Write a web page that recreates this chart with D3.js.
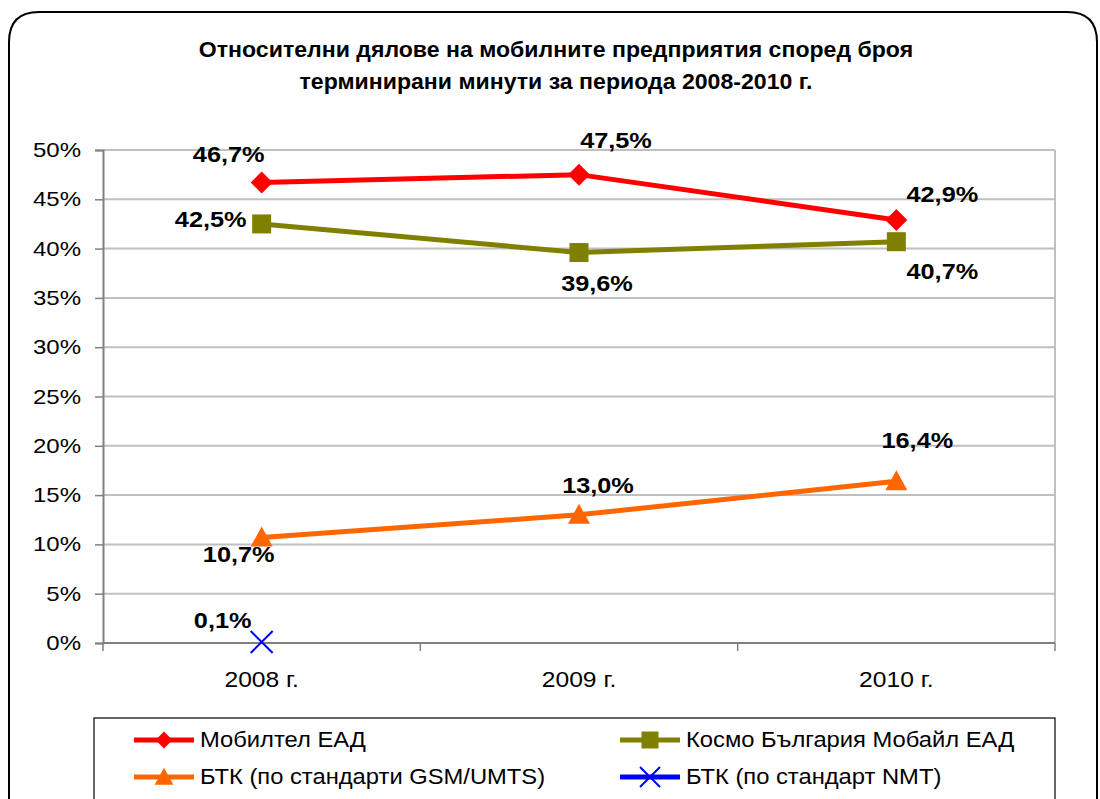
<!DOCTYPE html>
<html>
<head>
<meta charset="utf-8">
<title>Относителни дялове</title>
<script src="https://d3js.org/d3.v7.min.js"></script>
<style>
  body { margin: 0; background: #fff; }
  text { font-family: "Liberation Sans", Arial, sans-serif; }
</style>
</head>
<body>
<div id="chart"></div>
<script>
// data
var categories = ['2008 г.', '2009 г.', '2010 г.'];
var mobiltel = [46.7, 47.5, 42.9];
var cosmo = [42.5, 39.6, 40.7];
var btkGsm = [10.7, 13.0, 16.4];
var btkNmt = [0.1, null, null];
var yTicks = [0, 5, 10, 15, 20, 25, 30, 35, 40, 45, 50];

var titleLines = ['Относителни дялове на мобилните предприятия според броя',
                  'терминирани минути за периода 2008-2010 г.'];

var series = [
    { name: 'Мобилтел ЕАД', values: mobiltel, color: '#FF0000', marker: 'diamond',
      offs: [[-33, -29], [37, -35], [46, -26]] },
    { name: 'Космо България Мобайл ЕАД', values: cosmo, color: '#808000', marker: 'square',
      offs: [[-51, -5], [18, 30], [46, 29]] },
    { name: 'БТК (по стандарти GSM/UMTS)', values: btkGsm, color: '#FF6600', marker: 'triangle',
      offs: [[-23, 17], [19, -30], [21, -41]] },
    { name: 'БТК (по стандарт NMT)', values: btkNmt, color: '#0000FF', marker: 'x',
      offs: [[-39, -22]] }
];

var W = 1100, H = 799;
var svg = d3.select('#chart').append('svg')
    .attr('width', W).attr('height', H);

// text in the picture is drawn a little wider than the font, so stretch it sideways
function label(g, str, px, py, size, anchor, bold, sx) {
    return g.append('text')
        .attr('transform', 'translate(' + px + ',' + py + ') scale(' + sx + ',1)')
        .attr('text-anchor', anchor || 'start')
        .style('font-size', size + 'px')
        .style('font-weight', bold ? 'bold' : 'normal')
        .text(str);
}

// outer frame with rounded top corners
var r = 30;
svg.append('path')
    .attr('d', 'M9,' + (H + 10) + ' L9,' + (12 + r) + ' Q9,12 ' + (9 + r) + ',12 L' + (1097 - r) + ',12 Q1097,12 1097,' + (12 + r) + ' L1097,' + (H + 10))
    .style('fill', 'none').style('stroke', '#000').style('stroke-width', 2);

// title
titleLines.forEach(function (t, i) {
    label(svg, t, 556, 57 + i * 32, 22, 'middle', true, 1.05);
});

var pLeft = 103, pRight = 1055, pTop = 150, pBottom = 643;
var x = d3.scaleBand().domain(categories).range([pLeft, pRight]);
var y = d3.scaleLinear().domain([0, 50]).range([pBottom, pTop]);

// gridlines
svg.append('g').selectAll('line').data(yTicks.slice(1)).enter().append('line')
    .attr('x1', pLeft).attr('x2', pRight)
    .attr('y1', function (d) { return y(d); }).attr('y2', function (d) { return y(d); })
    .style('stroke', '#c0c0c0').style('stroke-width', 2);
svg.append('line')
    .attr('x1', pRight).attr('x2', pRight).attr('y1', pTop).attr('y2', pBottom)
    .style('stroke', '#c0c0c0').style('stroke-width', 2);

// y axis
var yAxis = svg.append('g').attr('transform', 'translate(' + pLeft + ',0)')
    .call(d3.axisLeft(y).tickValues(yTicks).tickSize(8).tickFormat(''));
yAxis.select('.domain').style('stroke', '#808080').style('stroke-width', 2);
yAxis.selectAll('.tick line').style('stroke', '#808080').style('stroke-width', 1.5);
yTicks.forEach(function (t) {
    label(svg, t + '%', 81, y(t) + 7, 20, 'end', false, 1.2);
});

// x axis with ticks between categories
var xAxis = svg.append('g').attr('transform', 'translate(0,' + pBottom + ')');
xAxis.append('line').attr('x1', pLeft).attr('x2', pRight)
    .style('stroke', '#808080').style('stroke-width', 2);
var bounds = categories.map(function (c) { return x(c); }).concat([pRight]);
xAxis.selectAll('.xt').data(bounds).enter().append('line')
    .attr('x1', function (d) { return d; }).attr('x2', function (d) { return d; })
    .attr('y1', 0).attr('y2', 8)
    .style('stroke', '#808080').style('stroke-width', 1.5);

function cx(i) { return x(categories[i]) + x.bandwidth() / 2; }

categories.forEach(function (c, i) {
    label(svg, c, cx(i), pBottom + 44, 22, 'middle', false, 1.12);
});

function drawMarker(g, type, color, px, py, s) {
    if (type === 'diamond') {
        g.append('path').attr('d', 'M' + px + ',' + (py - s / 2) + ' L' + (px + s / 2) + ',' + py + ' L' + px + ',' + (py + s / 2) + ' L' + (px - s / 2) + ',' + py + ' Z')
            .style('fill', color);
    } else if (type === 'square') {
        g.append('rect').attr('x', px - s / 2).attr('y', py - s / 2)
            .attr('width', s).attr('height', s).style('fill', color);
    } else if (type === 'triangle') {
        g.append('path').attr('d', 'M' + px + ',' + (py - s * 0.55) + ' L' + (px + s * 0.55) + ',' + (py + s * 0.45) + ' L' + (px - s * 0.55) + ',' + (py + s * 0.45) + ' Z')
            .style('fill', color);
    } else {
        var h = s / 2;
        g.append('path').attr('d', 'M' + (px - h) + ',' + (py - h) + ' L' + (px + h) + ',' + (py + h) + ' M' + (px - h) + ',' + (py + h) + ' L' + (px + h) + ',' + (py - h))
            .style('stroke', color).style('stroke-width', 2).style('fill', 'none');
    }
}

var markerSize = { diamond: 22, square: 19, triangle: 20, x: 22 };

var line = d3.line()
    .defined(function (d) { return d != null; })
    .x(function (d, i) { return cx(i); })
    .y(function (d) { return y(d); });

var plot = svg.append('g');
series.forEach(function (s) {
    plot.append('path').datum(s.values).attr('d', line)
        .style('fill', 'none').style('stroke', s.color).style('stroke-width', 5);
});
series.forEach(function (s) {
    s.values.forEach(function (v, i) {
        if (v == null) return;
        drawMarker(plot, s.marker, s.color, cx(i), y(v), markerSize[s.marker]);
    });
});
series.forEach(function (s) {
    s.values.forEach(function (v, i) {
        if (v == null) return;
        label(plot, v.toFixed(1).replace('.', ',') + '%', cx(i) + s.offs[i][0], y(v) + s.offs[i][1] + 8, 22, 'middle', true, 1.15);
    });
});

// legend
var lg = svg.append('g');
lg.append('rect').attr('x', 94).attr('y', 718).attr('width', 961).attr('height', 100)
    .style('fill', '#fff').style('stroke', '#000').style('stroke-width', 1.2);
var legPos = [[134, 740], [620, 740], [134, 777], [620, 777]];
series.forEach(function (s, i) {
    var p = legPos[i];
    lg.append('line').attr('x1', p[0]).attr('x2', p[0] + 60).attr('y1', p[1]).attr('y2', p[1])
        .style('stroke', s.color).style('stroke-width', 5);
    drawMarker(lg, s.marker, s.color, p[0] + 30, p[1], s.marker === 'x' ? 20 : 17);
    label(lg, s.name, p[0] + 66, p[1] + 7, 22, 'start', false, 1.08);
});
</script>
</body>
</html>
